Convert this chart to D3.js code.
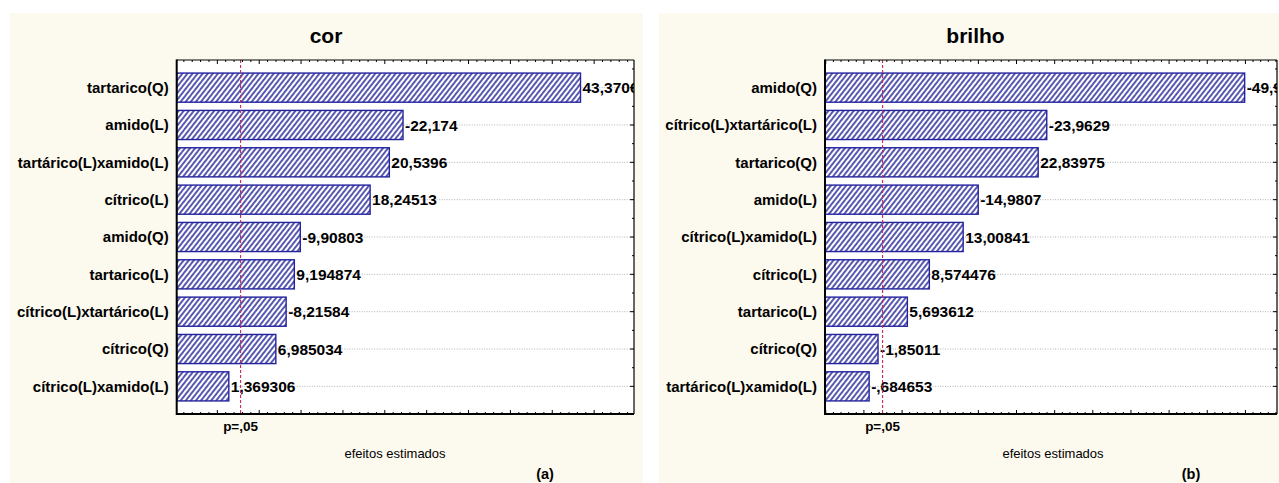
<!DOCTYPE html>
<html><head><meta charset="utf-8">
<script src="https://cdn.jsdelivr.net/npm/d3@7"></script>
<style>
html,body{margin:0;padding:0;background:#fff;}
svg{display:block;}
text{font-family:"Liberation Sans",Arial,Helvetica,sans-serif;}
</style></head>
<body>
<svg id="chart" width="1279" height="483"></svg>
<script>
// ---- data ----
const corCategories = ["tartarico(Q)","amido(L)","tartárico(L)xamido(L)","cítrico(L)","amido(Q)","tartarico(L)","cítrico(L)xtartárico(L)","cítrico(Q)","cítrico(L)xamido(L)"];
const corValues = [43.3706, -22.174, 20.5396, 18.24513, -9.90803, 9.194874, -8.21584, 6.985034, 1.369306];
const corLabels = ["43,3706","-22,174","20,5396","18,24513","-9,90803","9,194874","-8,21584","6,985034","1,369306"];
const corCritical = 2.776;

const brilhoCategories = ["amido(Q)","cítrico(L)xtartárico(L)","tartarico(Q)","amido(L)","cítrico(L)xamido(L)","cítrico(L)","tartarico(L)","cítrico(Q)","tartárico(L)xamido(L)"];
const brilhoValues = [-49.9, -23.9629, 22.83975, -14.9807, 13.00841, 8.574476, 5.693612, -1.85011, -0.684653];
const brilhoLabels = ["-49,9","-23,9629","22,83975","-14,9807","13,00841","8,574476","5,693612","-1,85011","-,684653"];
const brilhoCritical = 2.447;

const titles = ["cor","brilho"];
const panelTags = ["(a)","(b)"];
const pLabel = "p=,05";
const xAxisTitle = "efeitos estimados";

// ---- layout ----
const svg = d3.select("#chart");
const defs = svg.append("defs");
const pat = defs.append("pattern").attr("id","hatch").attr("patternUnits","userSpaceOnUse")
  .attr("width",4).attr("height",4).attr("patternTransform","rotate(38)");
pat.append("rect").attr("width",4).attr("height",4).attr("fill","#ffffff");
pat.append("line").attr("x1",1).attr("y1",0).attr("x2",1).attr("y2",4)
  .attr("stroke","#2e2e9c").attr("stroke-width",1.6);

const panels = [
  {cats:corCategories, vals:corValues, labels:corLabels, crit:corCritical, title:titles[0], tag:panelTags[0],
   bg:[10,13,633,470], frame:[176.7,60,634,414], domain:[-4.854,49.76], titleX:326, xTitleX:395, tagX:545},
  {cats:brilhoCategories, vals:brilhoValues, labels:brilhoLabels, crit:brilhoCritical, title:titles[1], tag:panelTags[1],
   bg:[659,13,640,470], frame:[825,60,1277,414], domain:[-5.1,54.14], titleX:975.5, xTitleX:1053, tagX:1191}
];

panels.forEach((p,i)=>{
  const g = svg.append("g");
  g.append("rect").attr("x",p.bg[0]).attr("y",p.bg[1]).attr("width",p.bg[2]).attr("height",p.bg[3]).attr("fill","#fcf9ee");
  const [L,T,R,B] = p.frame;
  const x = d3.scaleLinear().domain(p.domain).range([L,R]);
  const y = d3.scaleBand().domain(p.cats).range([T,B]).paddingInner(0.22).paddingOuter(0.35);

  g.append("rect").attr("x",L).attr("y",T).attr("width",R-L).attr("height",B-T).attr("fill","#ffffff");

  const clipId = "clip"+i;
  defs.append("clipPath").attr("id",clipId).append("rect").attr("x",L).attr("y",T).attr("width",R-L).attr("height",B-T);
  const plot = g.append("g").attr("clip-path",`url(#${clipId})`);

  // gridlines
  plot.selectAll(".grid").data(p.cats).enter().append("line")
    .attr("x1",L).attr("x2",R).attr("y1",d=>y(d)+y.bandwidth()/2).attr("y2",d=>y(d)+y.bandwidth()/2)
    .attr("stroke","#a0a0a0").attr("stroke-width",0.8).attr("stroke-dasharray","1,1.5");

  // bars
  plot.selectAll(".bar").data(p.vals).enter().append("rect")
    .attr("x",x(p.domain[0]))
    .attr("y",(d,j)=>y(p.cats[j]))
    .attr("width",d=>x(Math.abs(d))-x(p.domain[0]))
    .attr("height",y.bandwidth())
    .attr("fill","url(#hatch)").attr("stroke","#2323a0").attr("stroke-width",1.4);

  // value labels
  plot.selectAll(".val").data(p.vals).enter().append("text")
    .attr("x",d=>x(Math.abs(d))+2)
    .attr("y",(d,j)=>y(p.cats[j])+y.bandwidth()/2)
    .attr("dy","0.36em")
    .attr("font-size",15.5).attr("font-weight","bold").attr("fill","#000")
    .text((d,j)=>p.labels[j]);

  // critical line
  plot.append("line").attr("x1",x(p.crit)).attr("x2",x(p.crit)).attr("y1",T).attr("y2",B)
    .attr("stroke","#c8285a").attr("stroke-width",1.1).attr("stroke-dasharray","3,2");

  // ticks on top/bottom axes
  const minor = d3.range(Math.ceil(p.domain[0]), Math.floor(p.domain[1])+1, 1);
  minor.forEach(v=>{
    const major = v % 5 === 0;
    const len = major ? 4 : 2;
    g.append("line").attr("x1",x(v)).attr("x2",x(v)).attr("y1",B).attr("y2",B-len).attr("stroke","#000").attr("stroke-width",1);
    g.append("line").attr("x1",x(v)).attr("x2",x(v)).attr("y1",T).attr("y2",T+len).attr("stroke","#000").attr("stroke-width",1);
  });
  // right ticks
  p.cats.forEach(c=>{
    const cy = y(c)+y.bandwidth()/2;
    [cy, y(c)-y.step()*y.paddingInner()/2].forEach((yy,k)=>{
      g.append("line").attr("x1",R).attr("x2",R-(k?2:4)).attr("y1",yy).attr("y2",yy).attr("stroke","#000");
    });
  });

  // frame
  g.append("line").attr("x1",L).attr("x2",R).attr("y1",T).attr("y2",T).attr("stroke","#000").attr("stroke-width",1);
  g.append("line").attr("x1",R).attr("x2",R).attr("y1",T).attr("y2",B).attr("stroke","#000").attr("stroke-width",1.2);
  g.append("line").attr("x1",L).attr("x2",L).attr("y1",T-0.5).attr("y2",B+1).attr("stroke","#000").attr("stroke-width",2);
  g.append("line").attr("x1",L).attr("x2",R).attr("y1",B).attr("y2",B).attr("stroke","#000").attr("stroke-width",2);

  // category labels
  g.selectAll(".cat").data(p.cats).enter().append("text")
    .attr("x",L-8).attr("y",d=>y(d)+y.bandwidth()/2).attr("dy","0.36em")
    .attr("text-anchor","end").attr("font-size",15).attr("font-weight","bold")
    .attr("fill","#000").text(d=>d);

  // title
  g.append("text").attr("x",p.titleX).attr("y",43).attr("text-anchor","middle")
    .attr("font-size",21).attr("font-weight","bold").attr("fill","#000").text(p.title);

  // p label
  g.append("text").attr("x",x(p.crit)).attr("y",431).attr("text-anchor","middle")
    .attr("font-size",13.5).attr("font-weight","bold").attr("fill","#000").text(pLabel);

  // x axis title
  g.append("text").attr("x",p.xTitleX).attr("y",458).attr("text-anchor","middle")
    .attr("font-size",13).attr("fill","#000").text(xAxisTitle);

  // tag
  g.append("text").attr("x",p.tagX).attr("y",479).attr("text-anchor","middle")
    .attr("font-size",14.5).attr("font-weight","bold").attr("fill","#000").text(p.tag);
});
</script>
</body></html>
